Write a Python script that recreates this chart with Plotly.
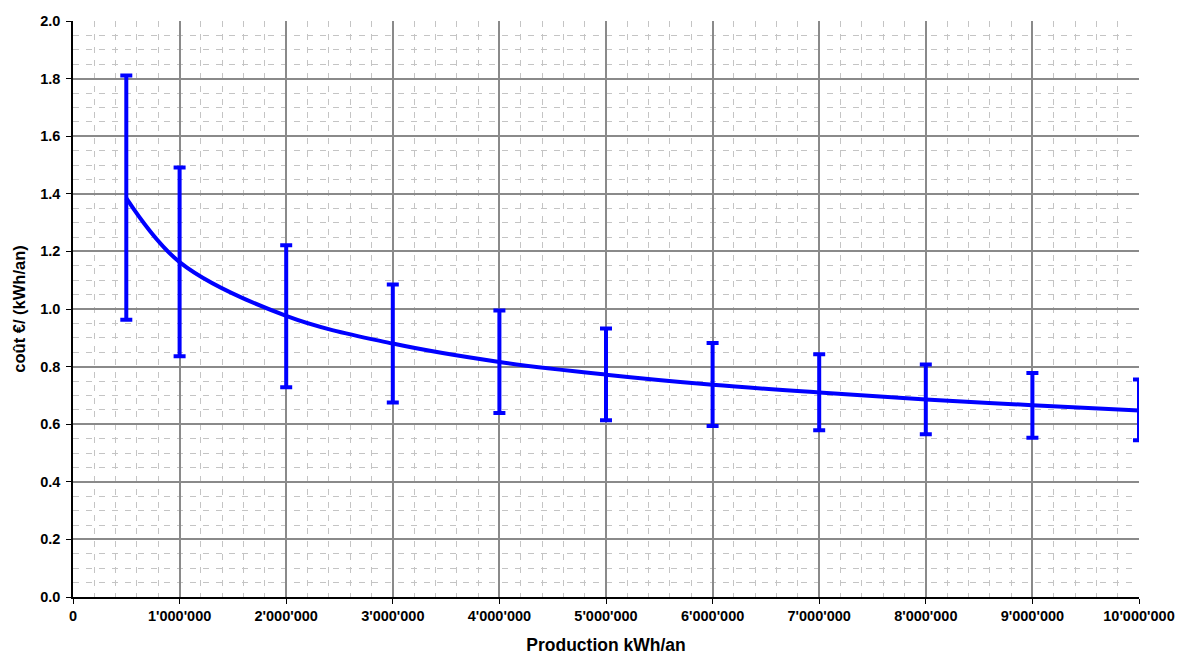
import plotly.graph_objects as go

production = [500000, 1000000, 2000000, 3000000, 4000000, 5000000,
              6000000, 7000000, 8000000, 9000000, 10000000]
cout_moyen = [1.385, 1.163, 0.976, 0.880, 0.816, 0.772, 0.737, 0.710, 0.686, 0.666, 0.648]
cout_max = [1.811, 1.491, 1.221, 1.085, 0.995, 0.932, 0.882, 0.843, 0.807, 0.778, 0.755]
cout_min = [0.963, 0.836, 0.728, 0.675, 0.639, 0.614, 0.594, 0.579, 0.565, 0.553, 0.544]

err_plus = [hi - m for hi, m in zip(cout_max, cout_moyen)]
err_minus = [m - lo for lo, m in zip(cout_min, cout_moyen)]

x_ticks = [0, 1000000, 2000000, 3000000, 4000000, 5000000, 6000000,
           7000000, 8000000, 9000000, 10000000]
y_ticks = [0.0, 0.2, 0.4, 0.6, 0.8, 1.0, 1.2, 1.4, 1.6, 1.8, 2.0]

font_family = "Liberation Sans, Arial, sans-serif"

fig = go.Figure()
fig.add_trace(go.Scatter(
    x=production, y=cout_moyen,
    mode="lines",
    line=dict(color="#0000ff", width=4, shape="spline"),
    error_y=dict(type="data", symmetric=False, array=err_plus, arrayminus=err_minus,
                 color="#0000ff", thickness=4, width=6),
    cliponaxis=True,
    showlegend=False,
))

fig.update_layout(
    width=1178, height=655,
    margin=dict(l=73, r=39, t=21, b=58, autoexpand=False),
    paper_bgcolor="white", plot_bgcolor="white",
    separators=".'",
    font=dict(family=font_family, color="black"),
)

fig.update_xaxes(
    range=[0, 10000000], automargin=False,
    tickvals=x_ticks, tickformat=",d",
    tickfont=dict(family=font_family, size=14.5, color="black", weight="bold"),
    ticks="outside", ticklen=5, tickcolor="black", tickwidth=1,
    showline=True, linecolor="black", linewidth=1.5,
    showgrid=True, gridcolor="#8a8a8a", gridwidth=1.5,
    minor=dict(dtick=200000, showgrid=True, gridcolor="#c4c4c4", gridwidth=1, griddash="6px,7px"),
    zeroline=False,
    title=dict(text="Production kWh/an", font=dict(family=font_family, size=17.5, color="black", weight="bold"), standoff=20),
)
fig.update_yaxes(
    range=[0, 2.0], automargin=False,
    tickvals=y_ticks, tickformat=".1f",
    tickfont=dict(family=font_family, size=14.5, color="black", weight="bold"),
    ticks="outside", ticklen=5, tickcolor="black", tickwidth=1,
    ticklabelstandoff=3,
    showline=True, linecolor="black", linewidth=1.5,
    showgrid=True, gridcolor="#8a8a8a", gridwidth=1.5,
    minor=dict(dtick=0.05, showgrid=True, gridcolor="#c4c4c4", gridwidth=1, griddash="6px,7px"),
    zeroline=False,
    title=dict(text="coût €/ (kWh/an)", font=dict(family=font_family, size=16.5, color="black", weight="bold"), standoff=10),
)

fig.write_html("out.html")
